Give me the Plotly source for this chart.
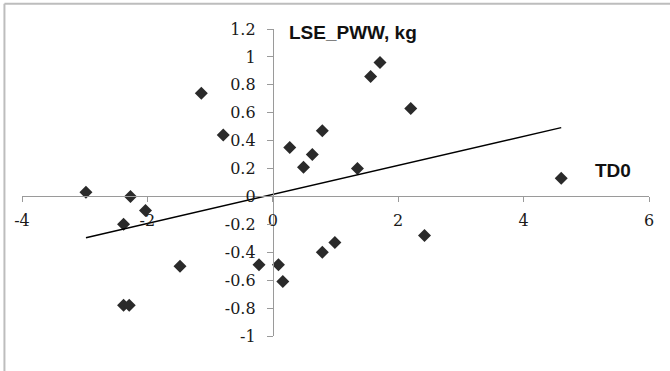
import numpy as np
import plotly.graph_objects as go

# Data
td0 = [-2.98, -2.27, -2.03, -2.38, -1.48, -2.38, -2.29, -1.14, -0.79, -0.22,
       0.09, 0.16, 0.27, 0.49, 0.63, 0.79, 0.79, 0.99, 1.35, 1.56,
       1.71, 2.20, 2.42, 4.60]
lse_pww = [0.03, 0.00, -0.10, -0.20, -0.50, -0.78, -0.78, 0.74, 0.44, -0.49,
           -0.49, -0.61, 0.35, 0.21, 0.30, 0.47, -0.40, -0.33, 0.20, 0.86,
           0.96, 0.63, -0.28, 0.13]

xtick_vals = [-4, -2, 0, 2, 4, 6]
xtick_text = ["-4", "-2", "0", "2", "4", "6"]
ytick_vals = [-1, -0.8, -0.6, -0.4, -0.2, 0, 0.2, 0.4, 0.6, 0.8, 1, 1.2]
ytick_text = ["-1", "-0.8", "-0.6", "-0.4", "-0.2", "0", "0.2", "0.4", "0.6", "0.8", "1", "1.2"]

x_title = "TD0"
y_title = "LSE_PWW, kg"

# Linear trend line (least squares)
slope, intercept = np.polyfit(td0, lse_pww, 1)
tx = np.array([min(td0), max(td0)])
ty = slope * tx + intercept

fig = go.Figure()
fig.add_trace(go.Scatter(
    x=td0, y=lse_pww, mode="markers",
    marker=dict(symbol="diamond", size=10, color="#2a2a2a"),
    showlegend=False, hoverinfo="x+y"))
fig.add_trace(go.Scatter(
    x=tx, y=ty, mode="lines",
    line=dict(color="#000000", width=1.4),
    showlegend=False, hoverinfo="skip"))

axis_color = "#9a9a9a"
border = dict(color="#bdbdbd", width=2)

fig.update_layout(
    width=670, height=371,
    margin=dict(l=22, r=21, t=29, b=35),
    paper_bgcolor="white", plot_bgcolor="white",
    font=dict(family="DejaVu Serif", size=16, color="#1a1a1a"),
    xaxis=dict(range=[-4, 6], tickvals=xtick_vals, ticktext=xtick_text,
               showgrid=False, zeroline=False, showline=True,
               linecolor=axis_color, linewidth=1,
               ticks="outside", ticklen=5, tickcolor=axis_color,
               anchor="free", position=1 / 2.2,
               tickfont=dict(family="DejaVu Serif", size=16, color="#1a1a1a"),
               ticklabelstandoff=4),
    yaxis=dict(range=[-1, 1.2], tickvals=ytick_vals, ticktext=ytick_text,
               showgrid=False, zeroline=False, showline=True,
               linecolor=axis_color, linewidth=1,
               ticks="outside", ticklen=6, tickcolor=axis_color,
               anchor="free", position=0.4,
               tickfont=dict(family="DejaVu Serif", size=16, color="#1a1a1a"),
               ticklabelstandoff=8),
    shapes=[
        dict(type="line", xref="paper", yref="paper",
             x0=-0.028, x1=-0.028, y0=-0.2, y1=1.082, line=border, layer="below"),
        dict(type="line", xref="paper", yref="paper",
             x0=-0.028, x1=1.1, y0=1.082, y1=1.082, line=border, layer="below"),
    ],
    annotations=[
        dict(x=0.22, y=1.175, xref="x", yref="y", text=y_title, showarrow=False,
             xanchor="left", yanchor="middle",
             font=dict(family="Liberation Sans", size=19, color="#111111", weight="bold")),
        dict(x=5.1, y=0.185, xref="x", yref="y", text=x_title, showarrow=False,
             xanchor="left", yanchor="middle",
             font=dict(family="Liberation Sans", size=19, color="#111111", weight="bold")),
    ],
)

fig.write_html("out.html")
